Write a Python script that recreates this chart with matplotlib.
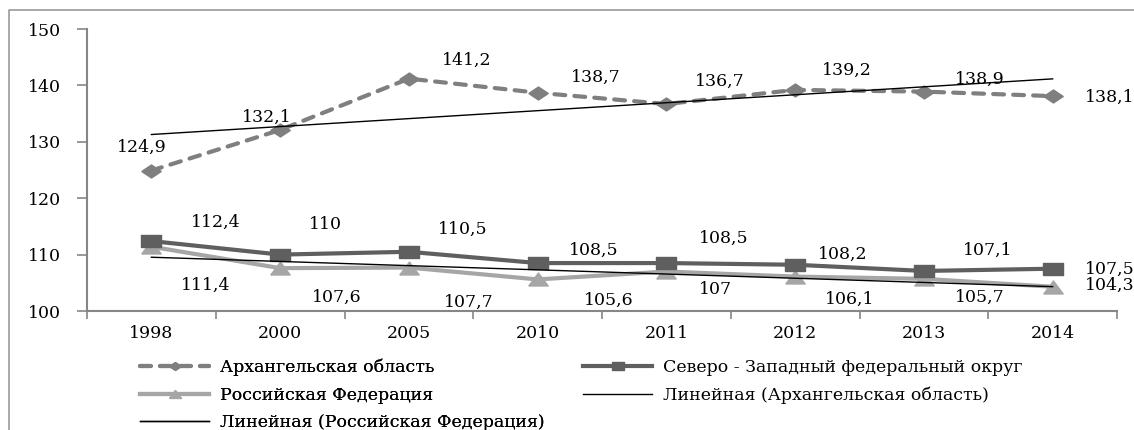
# Динамика показателей: Архангельская область, СЗФО, РФ
import numpy as np
import matplotlib.pyplot as plt
from matplotlib.lines import Line2D

years = ["1998", "2000", "2005", "2010", "2011", "2012", "2013", "2014"]
arkh = [124.9, 132.1, 141.2, 138.7, 136.7, 139.2, 138.9, 138.1]
szfo = [112.4, 110.0, 110.5, 108.5, 108.5, 108.2, 107.1, 107.5]
rf = [111.4, 107.6, 107.7, 105.6, 107.0, 106.1, 105.7, 104.3]

arkh_lbl = ["124,9", "132,1", "141,2", "138,7", "136,7", "139,2", "138,9", "138,1"]
szfo_lbl = ["112,4", "110", "110,5", "108,5", "108,5", "108,2", "107,1", "107,5"]
rf_lbl = ["111,4", "107,6", "107,7", "105,6", "107", "106,1", "105,7", "104,3"]

# label offsets in pixels (dx, dy up), as placed in the original
arkh_off = [(-10, 23), (-13, 13), (58, 18), (58, 15), (53, 23), (52, 20), (56, 12), (57, -1)]
szfo_off = [(64, 19), (45, 30), (54, 22), (56, 13), (57, 25), (48, 10), (64, 21), (57, -1)]
rf_off = [(54, -39), (57, -29), (60, -35), (71, -21), (49, -18), (55, -23), (56, -18), (57, 1)]

plt.rcParams['font.family'] = ['DejaVu Serif']
FS = 12.5
GRAY_AX = '#868686'

fig = plt.figure(figsize=(11.34, 4.30), dpi=100)
ax = fig.add_axes([87 / 1134, 1 - 311 / 430, (1117 - 87) / 1134, (311 - 29) / 430])

x = np.arange(len(years))

# stretched markers (the original picture is widened horizontally)
diamond = [(-1.5, 0), (0, 1), (1.5, 0), (0, -1), (-1.5, 0)]
square = [(-1.5, -1), (1.5, -1), (1.5, 1), (-1.5, 1), (-1.5, -1)]
triangle = [(-1.5, -1), (1.5, -1), (0, 1), (-1.5, -1)]

l_arkh, = ax.plot(x, arkh, color='#7f7f7f', lw=3, dashes=(2.6, 2.2), dash_capstyle='round',
                  marker=diamond, ms=14, mec='#7f7f7f', mfc='#7f7f7f', zorder=3,
                  label="Архангельская область")
l_szfo, = ax.plot(x, szfo, color='#5f5f5f', lw=3, marker=square, ms=14,
                  mec='#5f5f5f', mfc='#5f5f5f', zorder=3,
                  label="Северо - Западный федеральный округ")
l_rf, = ax.plot(x, rf, color='#a6a6a6', lw=3, marker=triangle, ms=14,
                mec='#a6a6a6', mfc='#a6a6a6', zorder=2,
                label="Российская Федерация")

# linear trends
k1, b1 = np.polyfit(x, arkh, 1)
k2, b2 = np.polyfit(x, rf, 1)
t_arkh, = ax.plot(x, k1 * x + b1, color='black', lw=1, zorder=5,
                  label="Линейная (Архангельская область)")
t_rf, = ax.plot(x, k2 * x + b2, color='black', lw=1, zorder=5,
                label="Линейная (Российская Федерация)")

for vals, lbls, offs in [(arkh, arkh_lbl, arkh_off), (szfo, szfo_lbl, szfo_off), (rf, rf_lbl, rf_off)]:
    for i in range(len(vals)):
        ax.annotate(lbls[i], (x[i], vals[i]), xytext=offs[i], textcoords='offset pixels',
                    ha='center', va='center', fontsize=FS, color='black',
                    annotation_clip=False, zorder=4)

ax.set_xlim(-0.5, 7.5)
ax.set_ylim(100, 150)
ax.set_yticks(range(100, 151, 10))
ax.set_xticks(x)
ax.set_xticklabels(years)
ax.set_xticks(np.arange(-0.5, 8, 1), minor=True)
ax.tick_params(axis='x', which='major', length=0, pad=10, labelsize=FS)
ax.tick_params(axis='x', which='minor', length=6, width=1.2, color=GRAY_AX)
ax.tick_params(axis='y', length=7, width=1.2, color=GRAY_AX, pad=12, labelsize=FS)

for s in ['top', 'right']:
    ax.spines[s].set_visible(False)
for s in ['left', 'bottom']:
    ax.spines[s].set_color(GRAY_AX)
    ax.spines[s].set_linewidth(1.5)

# legend in two columns
leg_kw = dict(loc='upper left', frameon=False, prop={'family': 'DejaVu Serif', 'size': FS},
              handlelength=4, handletextpad=0.6, labelspacing=0.6, markerscale=0.6,
              borderpad=0, borderaxespad=0)
leg1 = fig.legend(handles=[l_arkh, l_rf, t_rf], bbox_to_anchor=(140 / 1134, 1 - 359 / 430), **leg_kw)
fig.add_artist(leg1)
leg2 = fig.legend(handles=[l_szfo, t_arkh], bbox_to_anchor=(583 / 1134, 1 - 359 / 430), **leg_kw)

# outer chart frame
fig.add_artist(Line2D([9 / 1134, 9 / 1134, 1.0], [0.0, 1 - 10 / 430, 1 - 10 / 430],
                      transform=fig.transFigure, color='#9a9a9a', lw=1.2))

fig.savefig('out.png', dpi=100)
